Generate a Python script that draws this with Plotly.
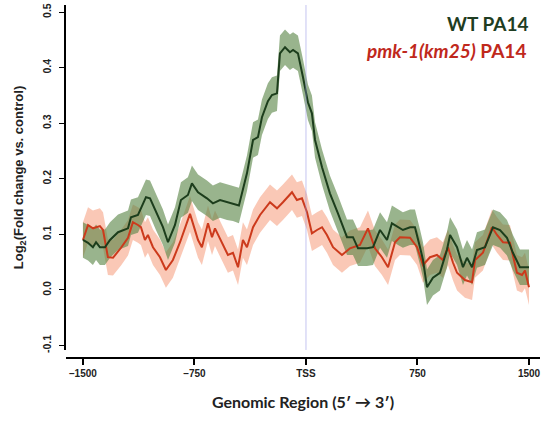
import plotly.graph_objects as go

# Genomic position (bp relative to TSS) and log2 fold change
wt_x = [-1500, -1466, -1433, -1412, -1386, -1352, -1318, -1264, -1197, -1177, -1130, -1076, -1049, -1009,
        -962, -928, -881, -841, -794, -767, -726, -666, -626, -578, -531, -491, -451, -397, -356, -323,
        -296, -256, -229, -195, -175, -141, -108, -87, -54, -20, 13, 40, 61, 108, 161, 215, 276, 316,
        350, 410, 451, 498, 545, 578, 619, 652, 700, 733, 767, 787, 814, 854, 901, 948, 969, 1016, 1056,
        1083, 1117, 1150, 1204, 1258, 1305, 1352, 1392, 1439, 1473, 1500]
wt_y = [0.090, 0.085, 0.077, 0.086, 0.077, 0.077, 0.090, 0.104, 0.111, 0.131, 0.135, 0.167, 0.165, 0.140,
        0.113, 0.086, 0.117, 0.162, 0.171, 0.192, 0.176, 0.165, 0.156, 0.162, 0.158, 0.156, 0.152, 0.210,
        0.270, 0.275, 0.311, 0.340, 0.351, 0.354, 0.426, 0.437, 0.428, 0.432, 0.426, 0.383, 0.338, 0.318,
        0.270, 0.221, 0.174, 0.138, 0.095, 0.095, 0.075, 0.075, 0.077, 0.108, 0.090, 0.120, 0.113, 0.108,
        0.113, 0.113, 0.077, 0.054, 0.005, 0.022, 0.031, 0.072, 0.099, 0.077, 0.041, 0.058, 0.041, 0.072,
        0.077, 0.113, 0.108, 0.094, 0.067, 0.041, 0.041, 0.041]

pmk_x = [-1500, -1466, -1433, -1386, -1365, -1332, -1298, -1244, -1197, -1164, -1130, -1110, -1083, -1063,
         -1029, -982, -942, -895, -847, -814, -780, -726, -700, -659, -632, -612, -565, -525, -491, -457,
         -424, -397, -356, -309, -242, -195, -155, -94, -61, -27, 7, 40, 74, 108, 141, 182, 242, 296, 363,
         417, 464, 511, 552, 599, 632, 700, 747, 787, 834, 881, 921, 955, 989, 1016, 1069, 1117, 1137,
         1190, 1251, 1285, 1325, 1372, 1419, 1453, 1473, 1493, 1500]
pmk_y = [0.090, 0.117, 0.111, 0.115, 0.108, 0.059, 0.058, 0.076, 0.094, 0.122, 0.117, 0.113, 0.090, 0.099,
         0.077, 0.059, 0.036, 0.054, 0.086, 0.113, 0.137, 0.090, 0.077, 0.120, 0.095, 0.111, 0.085, 0.063,
         0.067, 0.041, 0.090, 0.077, 0.113, 0.135, 0.158, 0.147, 0.158, 0.176, 0.162, 0.165, 0.140, 0.102,
         0.108, 0.113, 0.099, 0.077, 0.063, 0.075, 0.081, 0.111, 0.075, 0.059, 0.041, 0.086, 0.095, 0.094,
         0.077, 0.045, 0.059, 0.063, 0.054, 0.077, 0.049, 0.031, 0.018, 0.014, 0.054, 0.067, 0.113, 0.099,
         0.086, 0.085, 0.031, 0.027, 0.035, 0.013, 0.005]

wt_se = 0.032
pmk_se = 0.032

x_tickvals = [-1500, -750, 0, 750, 1500]
x_ticktext = ["<b>\u20131500</b>", "<b>\u2013750</b>", "<b>TSS</b>", "<b>750</b>", "<b>1500</b>"]
y_tickvals = [-0.1, 0.0, 0.1, 0.2, 0.3, 0.4, 0.5]
y_ticktext = ["<b>-0.1</b>", "<b>0.0</b>", "<b>0.1</b>", "<b>0.2</b>", "<b>0.3</b>", "<b>0.4</b>", "<b>0.5</b>"]

fig = go.Figure()


def band(xs, ys, se, fillcolor):
    up = [v + se for v in ys]
    lo = [v - se for v in ys]
    return go.Scatter(x=xs + xs[::-1], y=up + lo[::-1], fill="toself", fillcolor=fillcolor,
                      line=dict(width=0), hoverinfo="skip", showlegend=False, mode="lines")


fig.add_trace(band(pmk_x, pmk_y, pmk_se, "rgba(245,145,110,0.5)"))
fig.add_trace(band(wt_x, wt_y, wt_se, "rgba(85,130,65,0.6)"))
fig.add_trace(go.Scatter(x=pmk_x, y=pmk_y, mode="lines", line=dict(color="#cc3a1c", width=2),
                         showlegend=False))
fig.add_trace(go.Scatter(x=wt_x, y=wt_y, mode="lines", line=dict(color="#1c3d1c", width=2),
                         showlegend=False))

fig.add_shape(type="line", xref="x", yref="paper", x0=0, x1=0, y0=0.0227, y1=1,
              line=dict(color="rgba(150,150,230,0.55)", width=1))

fig.add_annotation(x=1, y=1, xref="paper", yref="paper", xanchor="right", yanchor="middle",
                   xshift=-10, yshift=-18, showarrow=False,
                   text="<b>WT PA14</b>", font=dict(family="Lato", size=19, color="#1f3d22"))
fig.add_annotation(x=1, y=1, xref="paper", yref="paper", xanchor="right", yanchor="middle",
                   xshift=-12, yshift=-45, showarrow=False,
                   text="<b><i>pmk-1(km25)</i> PA14</b>", font=dict(family="Lato", size=19, color="#c0281c"))

fig.update_layout(
    width=545, height=422,
    margin=dict(l=66, r=5, t=5, b=64),
    plot_bgcolor="white", paper_bgcolor="white",
    xaxis=dict(range=[-1614, 1574], tickvals=x_tickvals, ticktext=x_ticktext, automargin=False,
               showline=True, linecolor="black", linewidth=1.5, ticks="outside", ticklen=6,
               tickwidth=1.5, tickcolor="black", showgrid=False, zeroline=False,
               anchor="free", position=0,
               tickfont=dict(family="Liberation Sans", size=10, color="#222"),
               title=dict(text="<b>Genomic Region (5\u2032 \u2192 3\u2032)</b>",
                          font=dict(family="Lato", size=16, color="#222"), standoff=18)),
    yaxis=dict(range=[-0.108, 0.513], domain=[0.0227, 1], tickvals=y_tickvals, ticktext=y_ticktext,
               automargin=False, ticklabelstandoff=4,
               showline=True, linecolor="black", linewidth=1.5, ticks="outside", ticklen=5,
               tickwidth=1.2, tickcolor="black", showgrid=False, zeroline=False,
               tickangle=-90,
               tickfont=dict(family="Liberation Sans", size=10.5, color="#222"),
               title=dict(text="<b>Log<sub>2</sub>(Fold change vs. control)</b>",
                          font=dict(family="Liberation Sans", size=13, color="#222"), standoff=14)),
)

fig.write_html("out.html", post_script="document.body.style.margin='0';",
               config={"displayModeBar": False})
